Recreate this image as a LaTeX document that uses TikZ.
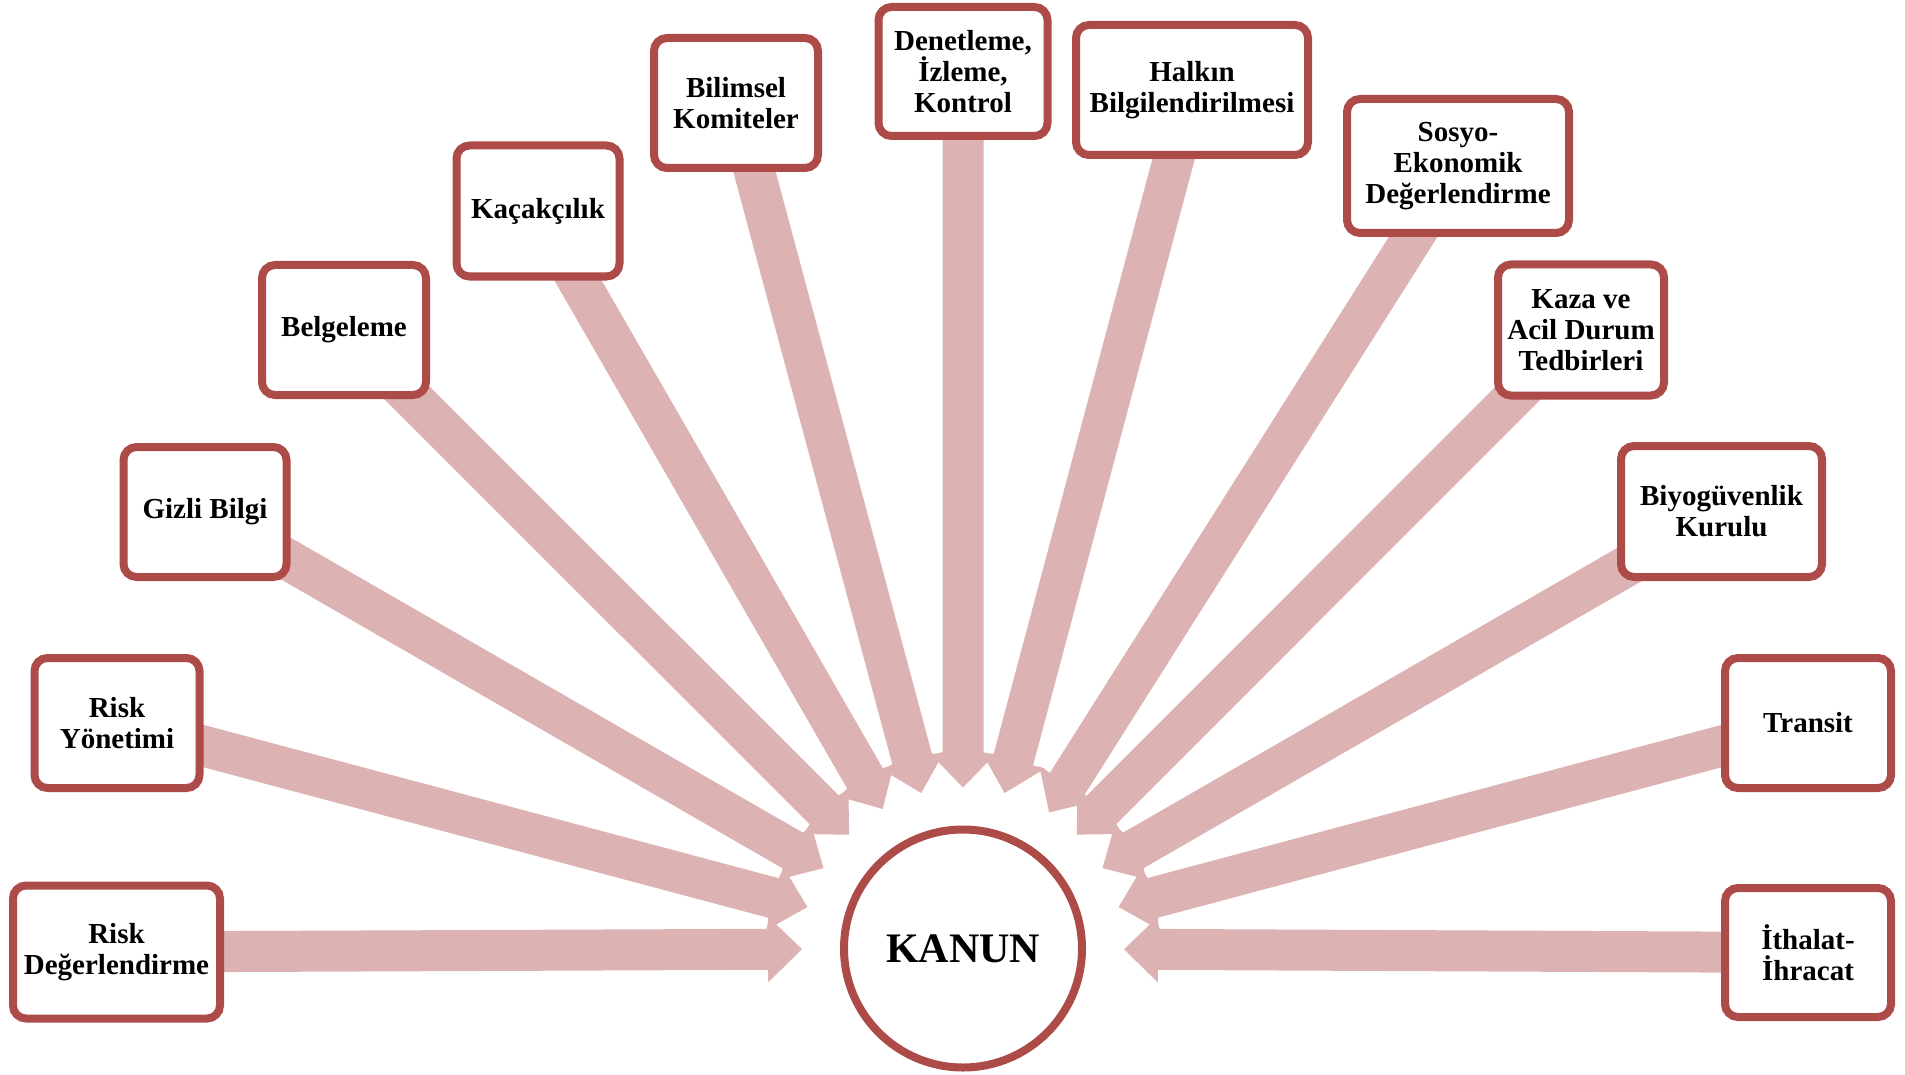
\documentclass[tikz,border=0pt]{standalone}
\usepackage{fontspec}
\setmainfont{Liberation Serif}
\usetikzlibrary{calc,backgrounds}

\definecolor{boxred}{RGB}{172,75,72}
\definecolor{arrowpink}{RGB}{220,178,178}

\tikzset{
  topic/.style={draw=boxred, line width=8pt, fill=white, rounded corners=13pt,
    align=center, inner sep=0pt,
    font=\fontsize{29}{31}\selectfont\bfseries},
  hubnode/.style={draw=boxred, line width=8pt, fill=white, circle,
    minimum size=238pt, inner sep=0pt,
    font=\fontsize{42}{50}\selectfont\bfseries},
  radial/.style={fill=arrowpink}
}

% block arrow from a topic box towards the hub
\newcommand\radarrow[1]{%
  \coordinate (tipT) at ($(hub)!161pt!(#1)$);
  \coordinate (baseH) at ($(hub)!195pt!(#1)$);
  \fill[radial]
    ($(#1)!20.5pt!-90:(hub)$) --
    ($(baseH)!20.5pt!90:(#1)$) --
    ($(baseH)!33pt!90:(#1)$) --
    (tipT) --
    ($(baseH)!33pt!-90:(#1)$) --
    ($(baseH)!20.5pt!-90:(#1)$) --
    ($(#1)!20.5pt!90:(hub)$) -- cycle;
}

\begin{document}
\begin{tikzpicture}[x=1pt, y=-1pt]
\useasboundingbox (0,0) rectangle (1905,1075);

\node[hubnode] (hub) at (963,948.5) {KANUN};

\node[topic, minimum width=207pt, minimum height=133pt] (riskd) at (116.5,952) {Risk\\Değerlendirme};
\node[topic, minimum width=165pt, minimum height=130pt] (risky) at (117,723) {Risk\\Yönetimi};
\node[topic, minimum width=163pt, minimum height=130pt] (gizli) at (205,512) {Gizli Bilgi};
\node[topic, minimum width=164pt, minimum height=130pt] (belge) at (344,330) {Belgeleme};
\node[topic, minimum width=163pt, minimum height=131pt] (kacak) at (538,211) {Kaçakçılık};
\node[topic, minimum width=164pt, minimum height=130pt] (bilim) at (736,103) {Bilimsel\\Komiteler};
\node[topic, minimum width=169pt, minimum height=129pt] (denet) at (963,71.5) {Denetleme,\\İzleme,\\Kontrol};
\node[topic, minimum width=232pt, minimum height=130pt] (halk) at (1192,90) {Halkın\\Bilgilendirilmesi};
\node[topic, minimum width=222pt, minimum height=134pt] (sosyo) at (1458,166) {Sosyo-\\Ekonomik\\Değerlendirme};
\node[topic, minimum width=166pt, minimum height=131pt] (kaza) at (1581,330) {Kaza ve\\Acil Durum\\Tedbirleri};
\node[topic, minimum width=201pt, minimum height=131pt] (biyo) at (1721.5,511.5) {Biyogüvenlik\\Kurulu};
\node[topic, minimum width=166pt, minimum height=130pt] (transit) at (1808,723) {Transit};
\node[topic, minimum width=166pt, minimum height=129pt] (ithal) at (1808,952.5) {İthalat-\\İhracat};

\begin{scope}[on background layer]
  \foreach \b in {riskd,risky,gizli,belge,kacak,bilim,ithal,transit,biyo,kaza,sosyo,halk,denet}
    {\radarrow{\b}}
\end{scope}
\end{tikzpicture}
\end{document}
